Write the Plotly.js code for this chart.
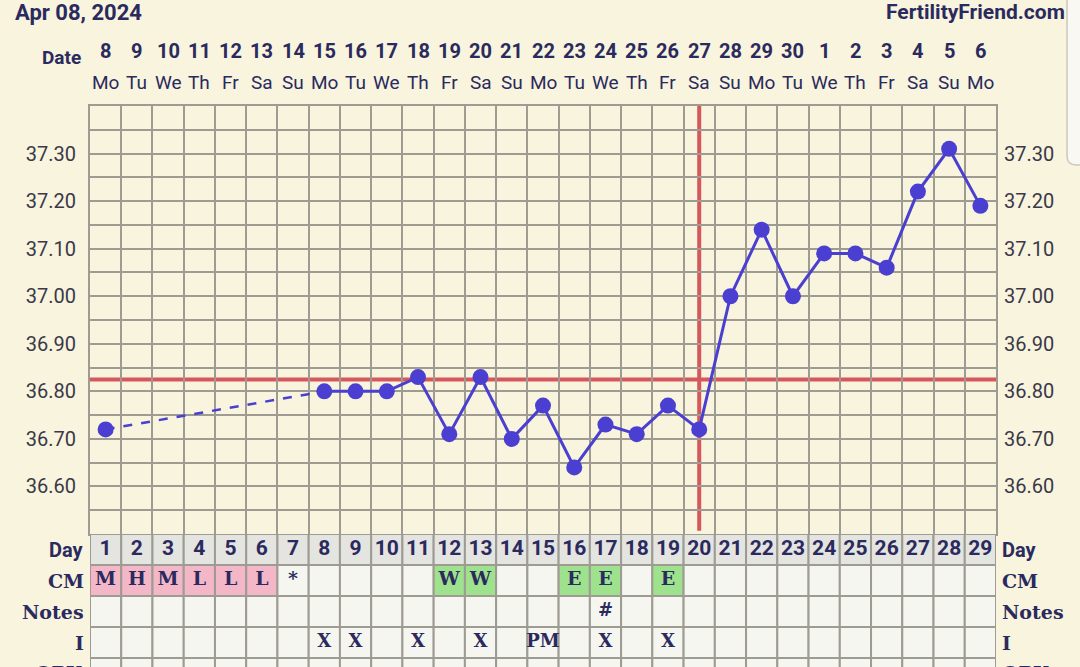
<!DOCTYPE html>
<html><head><meta charset="utf-8">
<script src="https://cdn.plot.ly/plotly-3.0.1.min.js"></script>
<style>html,body{margin:0;padding:0;background:#f8f4dd;} #chart{width:1080px;height:667px;}</style>
</head><body><div id="chart"></div>
<script>
// ---- data ----
const days = [1,2,3,4,5,6,7,8,9,10,11,12,13,14,15,16,17,18,19,20,21,22,23,24,25,26,27,28,29];
const dates = ['8','9','10','11','12','13','14','15','16','17','18','19','20','21','22','23','24','25','26','27','28','29','30','1','2','3','4','5','6'];
const weekdays = ['Mo','Tu','We','Th','Fr','Sa','Su','Mo','Tu','We','Th','Fr','Sa','Su','Mo','Tu','We','Th','Fr','Sa','Su','Mo','Tu','We','Th','Fr','Sa','Su','Mo'];
const temps = [36.72,null,null,null,null,null,null,36.80,36.80,36.80,36.83,36.71,36.83,36.70,36.77,36.64,36.73,36.71,36.77,36.72,37.00,37.14,37.00,37.09,37.09,37.06,37.22,37.31,37.19];
const coverline = 36.825;
const ovulationDay = 20;
const cm =          ['M','H','M','L','L','L','*','','','','','W','W','','','E','E','','E','','','','','','','','','',''];
const notes =       ['','','','','','','','','','','','','','','','','#','','','','','','','','','','','',''];
const intercourse = ['','','','','','','','X','X','','X','','X','','PM','','X','','X','','','','','','','','','',''];
const tempTicks = [36.60,36.70,36.80,36.90,37.00,37.10,37.20,37.30];
const rowLabels = ['Day','CM','Notes','I','OPK'];
const headerDate = 'Apr 08, 2024';
const siteName = 'FertilityFriend.com';

// ---- styles ----
const bg = '#f8f4dd', grid = '#9d9b92', navy = '#2b2a5e', tickCol = '#3a3948';
const markerCol = '#4a3fd0', red = '#d4585d';
const pink = '#f3b7c8', green = '#9ee28d', cellBg = '#f6f6f0', dayBg = '#e4e4e0';
const sans = 'Roboto, "DejaVu Sans", sans-serif';
const serif = '"DejaVu Serif", "Liberation Serif", serif';

const H = 667, T = 106, tablePx = 667 - 534;
const plotH = H - T;
const split = tablePx / plotH;
const py = p => (H - p) / plotH; // pixel row -> paper y
const bold = s => s ? '<b>' + s + '</b>' : '';

// ---- traces ----
const traces = [];
const firstIdx = 0, nextIdx = temps.findIndex((t,i)=> i>0 && t!==null);
traces.push({x:[days[firstIdx], days[nextIdx]], y:[temps[firstIdx], temps[nextIdx]], mode:'lines',
  line:{color:markerCol, width:2.5, dash:'dash'}, xaxis:'x', yaxis:'y', hoverinfo:'skip'});
traces.push({x:days.slice(nextIdx), y:temps.slice(nextIdx), mode:'lines', line:{color:markerCol, width:3},
  xaxis:'x', yaxis:'y', hoverinfo:'skip'});
traces.push({x:days, y:temps, mode:'markers', marker:{color:markerCol, size:16}, xaxis:'x', yaxis:'y', hoverinfo:'skip'});

// table text
traces.push({x:days, y:days.map(()=>0.5), text:days.map(d=>bold(String(d))), mode:'text', textposition:'middle center',
  textfont:{family:sans, size:21, color:navy}, xaxis:'x', yaxis:'y3', hoverinfo:'skip'});
traces.push({x:days, y:days.map(()=>1.5), text:cm.map(bold), mode:'text', textposition:'middle center',
  textfont:{family:serif, size:19, color:navy}, xaxis:'x', yaxis:'y3', hoverinfo:'skip'});
traces.push({x:days, y:days.map(()=>2.5), text:notes.map(bold), mode:'text', textposition:'middle center',
  textfont:{family:serif, size:18, color:navy}, xaxis:'x', yaxis:'y3', hoverinfo:'skip'});
traces.push({x:days, y:days.map(()=>3.5), text:intercourse.map(bold), mode:'text', textposition:'middle center',
  textfont:{family:serif, size:18, color:navy}, xaxis:'x', yaxis:'y3', hoverinfo:'skip'});

// ---- shapes ----
const shapes = [];
const cmColor = v => (v==='M'||v==='H'||v==='L') ? pink : (v==='W'||v==='E') ? green : cellBg;
for (let r = 0; r < rowLabels.length; r++) {
  days.forEach((d,i) => {
    let fill = cellBg;
    if (r===0) fill = dayBg;
    if (r===1) fill = cmColor(cm[i]);
    shapes.push({type:'rect', xref:'x', yref:'y3', x0:d-0.5, x1:d+0.5, y0:r, y1:r+1,
      fillcolor:fill, line:{color:grid, width:2}, layer:'between'});
  });
}
shapes.push({type:'line', xref:'paper', yref:'y', x0:0, x1:1, y0:coverline, y1:coverline, line:{color:red, width:4}, layer:'between'});
shapes.push({type:'line', xref:'x', yref:'paper', x0:ovulationDay, x1:ovulationDay, y0:split+0.006, y1:1, line:{color:red, width:4}, layer:'between'});
shapes.push({type:'path', xref:'paper', yref:'paper',
  path:'M 1.0784,1.2 L 1.0784,' + (py(165)+0.016) + ' Q 1.0784,' + py(165) + ' 1.0884,' + py(165) + ' L 1.12,' + py(165) + ' L 1.12,1.2 Z',
  fillcolor:'#f9f8f2', line:{color:'#cbc8be', width:1.5}});

// ---- annotations ----
const ann = [];
ann.push({text:bold(headerDate), xref:'paper', yref:'paper', x:(13-90)/906, y:py(12), xanchor:'left', yanchor:'middle', showarrow:false,
  font:{family:sans, size:22, color:navy}});
ann.push({text:bold(siteName), xref:'paper', yref:'paper', x:(1067-90)/906, y:py(12), xanchor:'right', yanchor:'middle', showarrow:false,
  font:{family:sans, size:21, color:navy}});
ann.push({text:bold('Date'), xref:'paper', yref:'paper', x:(83-90)/906, y:py(57.5), xanchor:'right', yanchor:'middle', showarrow:false,
  font:{family:sans, size:19, color:navy}});
days.forEach((d,i) => {
  ann.push({text:bold(dates[i]), xref:'x', yref:'paper', x:d, y:py(51), xanchor:'center', yanchor:'middle', showarrow:false,
    font:{family:sans, size:20, color:navy}});
  ann.push({text:weekdays[i], xref:'x', yref:'paper', x:d, y:py(82.5), xanchor:'center', yanchor:'middle', showarrow:false,
    font:{family:sans, size:19, color:navy}});
});
rowLabels.forEach((lab, r) => {
  const f = r===0 ? {family:sans, size:20, color:navy} : {family:serif, size:19, color:navy};
  const yy = py(534 + 31*r + 15.5);
  ann.push({text:bold(lab), xref:'paper', yref:'paper', x:(86-90)/906, y:yy, xanchor:'right', yanchor:'middle', showarrow:false, font:f});
  ann.push({text:bold(lab), xref:'paper', yref:'paper', x:(1000-90)/906, y:yy, xanchor:'left', yanchor:'middle', showarrow:false, font:f});
});

// ---- layout ----
const ticktext = tempTicks.map(v => v.toFixed(2));
const layout = {
  width:1080, height:667, margin:{l:90, r:84, t:T, b:0},
  paper_bgcolor:bg, plot_bgcolor:bg, showlegend:false,
  xaxis:{domain:[0,1], range:[0.5,29.5], anchor:'y', tickmode:'linear', tick0:0.5, dtick:1, showticklabels:false,
    showgrid:true, gridcolor:grid, gridwidth:2, zeroline:false, showline:true, mirror:true, linecolor:grid, linewidth:2, ticks:'', fixedrange:true},
  yaxis:{domain:[split,1], range:[36.5,37.4], tickmode:'array', tickvals:tempTicks, ticktext:ticktext, ticks:'',
    ticklabelstandoff:8, tickfont:{family:sans, size:20, color:tickCol},
    showgrid:true, gridcolor:grid, gridwidth:2, zeroline:false, showline:true, mirror:true, linecolor:grid, linewidth:2,
    minor:{tickmode:'linear', tick0:36.5, dtick:0.05, showgrid:true, gridcolor:grid, gridwidth:2, ticks:''}, fixedrange:true},
  yaxis2:{overlaying:'y', side:'right', range:[36.5,37.4], tickmode:'array', tickvals:tempTicks, ticktext:ticktext, ticks:'',
    ticklabelstandoff:7, tickfont:{family:sans, size:20, color:tickCol}, showgrid:false, zeroline:false, fixedrange:true},
  yaxis3:{domain:[0,split], range:[tablePx/31, 0], visible:false, showgrid:false, zeroline:false, fixedrange:true, anchor:'x'},
  shapes:shapes, annotations:ann
};
traces.push({x:[days[0]], y:[tempTicks[0]], mode:'markers', marker:{opacity:0}, xaxis:'x', yaxis:'y2', hoverinfo:'skip'});

Plotly.newPlot('chart', traces, layout, {staticPlot:true, displayModeBar:false});
</script></body></html>
